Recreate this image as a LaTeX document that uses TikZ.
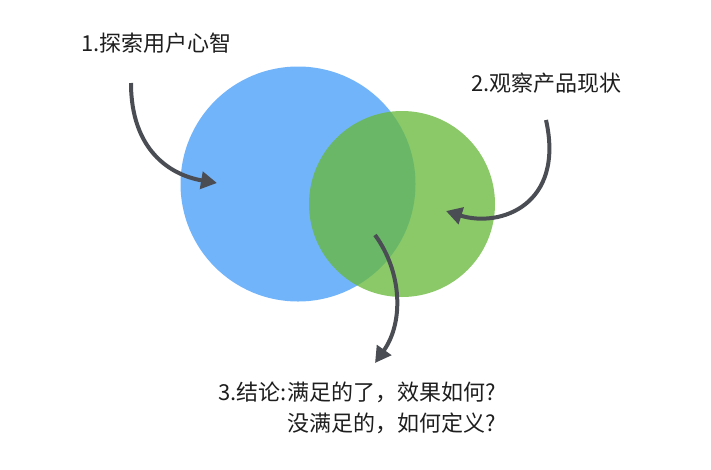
\documentclass[tikz,border=0pt]{standalone}
\usepackage{fontspec}
\usepackage{xcolor}
\usetikzlibrary{arrows.meta}
\newfontfamily\cjk{Noto Sans CJK SC}
\definecolor{venn-blue}{RGB}{114,180,250}
\definecolor{venn-green}{RGB}{104,185,59}
\definecolor{arrow-gray}{RGB}{74,77,83}
\definecolor{label-black}{RGB}{30,30,30}
\tikzset{
    venn-circle/.style = {circle, draw=none, inner sep=0pt},
    step-label/.style = {text=label-black, inner sep=0pt, font=\cjk\fontsize{22}{31}\selectfont},
    curve-arrow/.style = {draw=arrow-gray, line width=4pt, -{Triangle[length=16pt, width=17pt]}},
}
\begin{document}
\begin{tikzpicture}[x=1pt, y=-1pt]
\useasboundingbox (0,0) rectangle (711,469);
% the two sets
\node [venn-circle, fill=venn-blue, minimum size=235pt] (user) at (298,184) {};
\node [venn-circle, fill=venn-green, fill opacity=0.77, minimum size=186pt] (product) at (402,204) {};

% labels
\node [step-label] (user-label) at (156.5,43) {1.探索用户心智};
\node [step-label] (product-label) at (546.5,83) {2.观察产品现状};
\node [step-label, align=right] (result-label) at (357,407.5) {3.结论:满足的了，效果如何?\\没满足的，如何定义?};

% arrows
\coordinate (user-from) at (131,83);
\coordinate (user-tip) at (217,183);
\coordinate (product-from) at (546,120);
\coordinate (product-tip) at (446,211);
\coordinate (result-from) at (375,235);
\coordinate (result-tip) at (375,363);
\draw [curve-arrow] (user-from) .. controls (131,150) and (170,175) .. (user-tip);
\draw [curve-arrow] (product-from) .. controls (565,205) and (500,228) .. (product-tip);
\draw [curve-arrow] (result-from) .. controls (402,272) and (404,322) .. (result-tip);
\end{tikzpicture}
\end{document}
